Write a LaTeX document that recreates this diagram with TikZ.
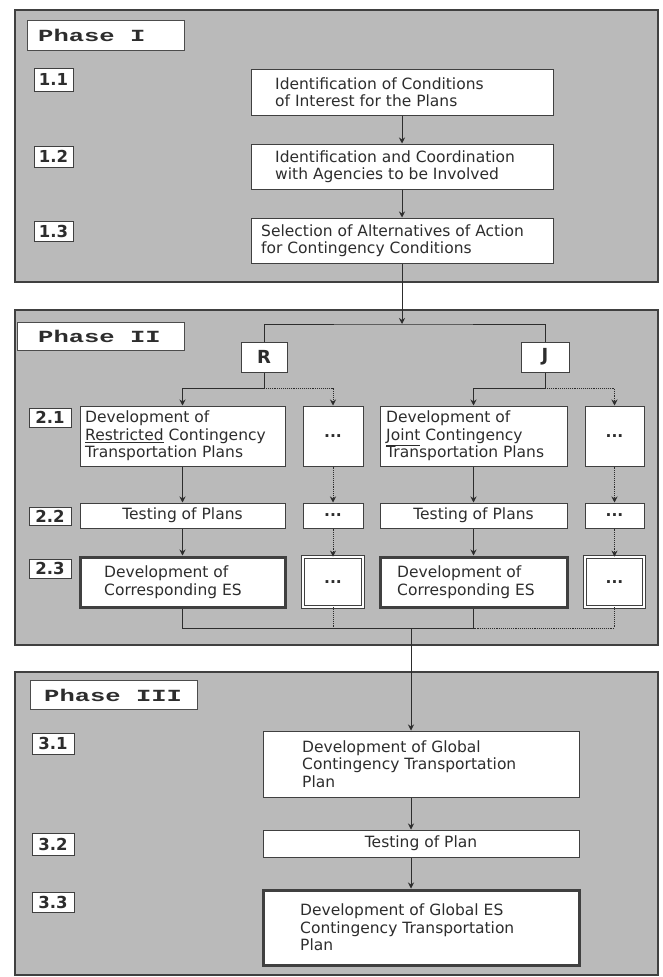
\documentclass[tikz,border=0pt]{standalone}
\usepackage{fontspec}
\usepackage{graphicx}
\setmainfont{DejaVu Sans}
\newfontfamily\phasefont{Liberation Mono}
\usetikzlibrary{arrows.meta}
\definecolor{panelgray}{RGB}{186,186,186}
\definecolor{ink}{RGB}{45,45,45}
\newcommand\boxfont{\fontsize{15.5}{17.5}\selectfont}
\newcommand\dotsym{\textbf{...}}
\newcommand\PB[7]{\node[#6, minimum width={(#4)-(#2)}, minimum height={(#5)-(#3)}] (#1) at ({((#2)+(#4))/2},{((#3)+(#5))/2}) {#7};}
\newcommand\phtext[1]{\scalebox{1.5}[1]{#1}}
\begin{document}
\begin{tikzpicture}[x=1pt,y=-1pt,
  panel/.style={draw=black!75, line width=1.5pt, fill=panelgray, inner sep=0pt},
  plabel/.style={draw=black!70, line width=1pt, fill=white, inner sep=0pt},
  phtxt/.style={inner sep=0pt, anchor=west, text=ink, font=\phasefont\bfseries\fontsize{17}{17}\selectfont},
  num/.style={draw=black!75, line width=1pt, fill=white, inner sep=0pt, text=ink, font=\bfseries\fontsize{16.5}{16.5}\selectfont},
  box/.style={draw=black!75, line width=1pt, fill=white, inner sep=0pt, align=center, text=ink, font=\boxfont},
  thickbox/.style={box, line width=3pt},
  dbox/.style={box, double, double distance=1.8pt, line width=0.8pt},
  letter/.style={box, font=\bfseries\fontsize{18}{18}\selectfont},
  txt/.style={inner sep=0pt, align=left, anchor=west, text=ink, font=\boxfont},
  ln/.style={draw=ink, line width=0.9pt},
  arr/.style={ln, -{Stealth[length=6pt,width=6pt]}},
  dln/.style={ln, densely dotted},
  darr/.style={arr, densely dotted}]
\useasboundingbox (0,0) rectangle (663,977);
% panels
\PB{p1}{15}{10}{658}{282}{panel}{}
\PB{p2}{15}{310}{658}{645}{panel}{}
\PB{p3}{15}{672}{658}{975}{panel}{}
% phase labels
\PB{ph1}{27}{20}{184}{50}{plabel}{}
\node[phtxt] (ph1t) at (38,35) {\phtext{Phase I}};
\PB{ph2}{17}{322}{184}{350}{plabel}{}
\node[phtxt] (ph2t) at (38,336) {\phtext{Phase II}};
\PB{ph3}{30}{680}{197}{709}{plabel}{}
\node[phtxt] (ph3t) at (44,695) {\phtext{Phase III}};
% step numbers
\PB{n11}{34}{68}{73}{91}{num}{1.1}
\PB{n12}{34}{146}{73}{167}{num}{1.2}
\PB{n13}{34}{221}{73}{241}{num}{1.3}
\PB{n21}{29}{408}{71}{427}{num}{2.1}
\PB{n22}{29}{507}{71}{525}{num}{2.2}
\PB{n23}{29}{559}{71}{578}{num}{2.3}
\PB{n31}{32}{733}{74}{754}{num}{3.1}
\PB{n32}{32}{833}{74}{855}{num}{3.2}
\PB{n33}{32}{892}{74}{912}{num}{3.3}
% phase I
\PB{b11}{251}{69}{553}{115}{box}{}
\node[txt] (t11) at (275,92) {Identification of Conditions\\of Interest for the Plans};
\PB{b12}{251}{144}{553}{189}{box}{}
\node[txt] (t12) at (275,166.5) {Identification and Coordination\\with Agencies to be Involved};
\PB{b13}{251}{218}{553}{263}{box}{}
\node[txt] (t13) at (261,240.5) {Selection of Alternatives of Action\\for Contingency Conditions};
% phase II
\PB{R}{241}{342}{287}{372}{letter}{R}
\PB{J}{521}{342}{569}{372}{letter}{J}
\PB{b21r}{80}{406}{285}{466}{box}{}
\node[txt] (t21r) at (85,436) {Development of\\\underline{Restricted} Contingency\\Transportation Plans};
\PB{d21a}{303}{406}{363}{466}{box}{\dotsym}
\PB{b21j}{380}{406}{567}{466}{box}{}
\node[txt] (t21j) at (386,436) {Development of\\\underline{Joint} Contingency\\Transportation Plans};
\PB{d21b}{585}{406}{644}{466}{box}{\dotsym}
\PB{b22r}{80}{503}{285}{528}{box}{Testing of Plans}
\PB{d22a}{303}{503}{363}{528}{box}{\dotsym}
\PB{b22j}{380}{503}{567}{528}{box}{Testing of Plans}
\PB{d22b}{585}{503}{644}{528}{box}{\dotsym}
\PB{b23r}{80}{557}{285}{607}{thickbox}{}
\node[txt] (t23r) at (104,582) {Development of\\Corresponding ES};
\PB{d23a}{303}{557}{363}{607}{dbox}{\dotsym}
\PB{b23j}{380}{557}{567}{607}{thickbox}{}
\node[txt] (t23j) at (397,582) {Development of\\Corresponding ES};
\PB{d23b}{585}{557}{644}{607}{dbox}{\dotsym}
% phase III
\PB{b31}{263}{731}{579}{797}{box}{}
\node[txt] (t31) at (302,764) {Development of Global\\Contingency Transportation\\Plan};
\PB{b32}{263}{830}{579}{857}{box}{Testing of Plan}
\PB{b33}{263}{890}{579}{965}{thickbox}{}
\node[txt] (t33) at (300,927.5) {Development of Global ES\\Contingency Transportation\\Plan};
% connectors phase I
\draw[arr] (b11.south) -- (b12.north);
\draw[arr] (b12.south) -- (b13.north);
\coordinate (split) at (402,324);
\draw[arr] (b13.south) -- (split);
\draw[ln] (R.north) |- (split) -| (J.north);
% R and J branches
\coordinate (rs) at (264,388);
\coordinate (js) at (545,388);
\draw[ln] (R.south) -- (rs);
\draw[ln] (J.south) -- (js);
\draw[arr] (rs) -| (b21r.north);
\draw[darr] (rs) -| (d21a.north);
\draw[arr] (js) -| (b21j.north);
\draw[darr] (js) -| (d21b.north);
% columns
\draw[arr] (b21r) -- (b22r);
\draw[arr] (b22r) -- (b23r);
\draw[arr] (b21j) -- (b22j);
\draw[arr] (b22j) -- (b23j);
\draw[darr] (d21a) -- (d22a);
\draw[darr] (d22a) -- (d23a);
\draw[darr] (d21b) -- (d22b);
\draw[darr] (d22b) -- (d23b);
% merge
\coordinate (mg) at (411,628);
\draw[ln] (b23r.south) |- (mg);
\draw[ln] (b23j.south) |- (mg);
\draw[dln] (d23a.south) -- (d23a.south |- mg);
\draw[dln] (d23b.south) |- (b23j.south |- mg);
\draw[arr] (mg) -- (mg |- b31.north);
% phase III
\draw[arr] (b31.south -| mg) -- (b32.north -| mg);
\draw[arr] (b32.south -| mg) -- (b33.north -| mg);
\end{tikzpicture}
\end{document}
